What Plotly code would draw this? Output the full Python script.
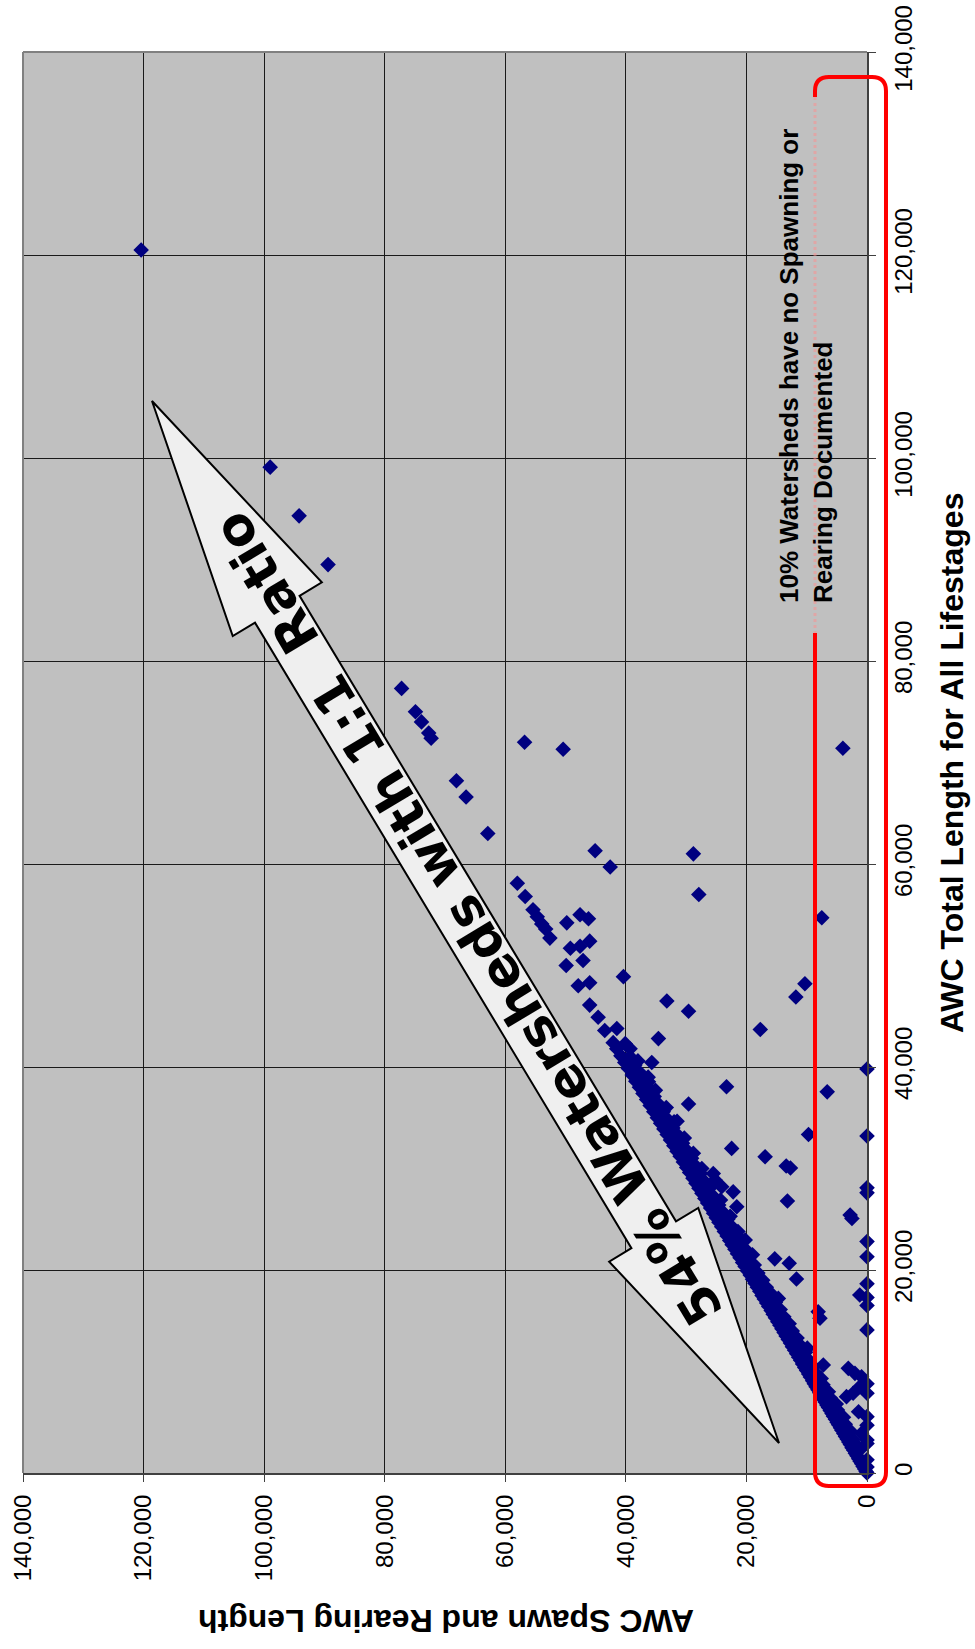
import math
import plotly.graph_objects as go

# ---------------- data ----------------
# Watersheds lying on / very near the 1:1 line (AWC total length, AWC spawn & rearing length)
band_total = [150, 400, 650, 900, 1150, 1400, 1700, 1950, 2250, 2500, 2800, 3050, 3350, 3600,
              3900, 4200, 4450, 4750, 5000, 5300, 5600, 5850, 6150, 6450, 6700, 7000, 7300, 7600,
              7900, 8200, 8500, 8800, 9100, 9450, 9750, 10100, 10400, 10750, 11100, 11400, 11750,
              12100, 12450, 12800, 13150, 13500, 13850, 14200, 14550, 14900, 15300, 15650, 16000,
              16400, 16750, 17150, 17500, 17900, 18300, 18700, 19100, 19500, 19900, 20350, 20750,
              21200, 21600, 22050, 22500, 22900, 23350, 23800, 24250, 24700, 25150, 25600, 26100,
              26600, 27050, 27550, 28050, 28550, 29050, 29600, 30100, 30650, 31200, 31700, 32250,
              32800, 33350, 33900, 34450, 35000, 35600, 36200, 36800, 37400, 38000, 38600, 39200,
              39850, 40450, 41100, 41800, 42400, 44900]
band_spawn = [150, 390, 640, 880, 1140, 1380, 1660, 1930, 2200, 2480, 2760, 3020, 3300, 3570,
              3850, 4170, 4400, 4710, 4960, 5240, 5560, 5800, 6100, 6390, 6660, 6930, 7260, 7530,
              7850, 8130, 8440, 8740, 9020, 9390, 9680, 10020, 10330, 10680, 11010, 11330, 11670,
              12010, 12370, 12700, 13060, 13420, 13750, 14110, 14450, 14800, 15190, 15560, 15890,
              16300, 16640, 17030, 17400, 17780, 18190, 18580, 18990, 19370, 19790, 20220, 20630,
              21060, 21480, 21910, 22370, 22770, 23200, 23660, 24100, 24560, 25000, 25450, 25940,
              26440, 26890, 27380, 27880, 28380, 28870, 29420, 29910, 30460, 31000, 31510, 32040,
              32600, 33140, 33690, 34230, 34780, 35370, 35970, 36560, 37160, 37750, 38350, 38940,
              39580, 40180, 40820, 41510, 42100, 44600]

# second and third rows of watersheds just below the 1:1 line (thick part of the band)
band2_total = [2600, 3300, 4100, 4800, 5500, 6200, 6800, 7400, 8000, 8700, 9300, 9900, 10500,
               11200, 11900, 12600, 13300, 14000, 14700, 15400, 16100, 16800, 17600, 18300, 19000,
               19700, 20500, 21200, 22000, 22700, 23500, 24200, 25000, 25700, 26400, 27200, 28000,
               28700, 29500, 30300, 31000, 31800, 32500, 33300, 34000, 34800, 35600, 36300, 37100,
               37900, 38700, 39400, 40200, 41000, 42300]
band2_spawn = [1500, 2300, 2700, 3600, 3900, 4900, 5100, 6100, 6400, 7300, 7600, 8600, 8900,
               9800, 10200, 11100, 11600, 12400, 12900, 13800, 14400, 15200, 15800, 16700, 17300,
               18100, 18700, 19600, 20100, 21000, 21700, 22400, 23100, 23900, 24600, 25400, 26200,
               26900, 27600, 28500, 29100, 29900, 30600, 31400, 32200, 33000, 33800, 34500, 35300,
               36100, 36900, 37600, 38500, 39300, 40100]
band3_total = [12300, 17200, 21500, 23800, 25300, 26900, 28400, 30000, 31500,
               33000, 34600, 36000, 37700, 39000, 40600]
band3_spawn = [9900, 14700, 19000, 21400, 22700, 24300, 25800, 27400, 28800,
               30300, 32000, 33300, 35100, 36300, 38000]

# larger watersheds close to the 1:1 line
large_total = [120500, 99100, 94300, 89500, 77300, 75000, 74000, 72400, 72900, 68200, 66600, 63000,
               58100, 56800, 55500, 54800, 54100, 53600, 52700, 50000, 48000, 46100, 43600]
large_spawn = [120400, 99000, 94200, 89400, 77200, 74900, 73900, 72300, 72700, 68100, 66500, 62900,
               58000, 56700, 55400, 54700, 53950, 53300, 52600, 49900, 47900, 46000, 43500]

# watersheds well below the 1:1 line
off_total = [72000, 71300, 71400, 61300, 59700, 61000, 57000, 54700, 54200, 55000, 54600, 51700,
             51900, 52400, 50500, 48300, 43800, 48900, 46500, 45500, 42800, 40450, 38050, 48200,
             46900, 43700, 37550, 36350, 34650, 33350, 31980, 31160, 30250, 30050, 26800, 29190,
             29500, 28860, 28200, 27700, 26230, 25080, 25410, 22950, 21640, 21100, 20660, 19110,
             17040, 15890, 15240, 14410, 10640, 10310, 9820, 9490, 7520, 7850, 8500, 6040, 3910,
             2270, 6870, 17530, 41800, 38540, 24920, 24430]
off_spawn = [56800, 50400, 4000, 45100, 42600, 28800, 27900, 7500, 49800, 47600, 46200, 49200,
             47600, 46000, 47100, 46000, 41500, 40400, 33200, 29600, 34600, 35700, 23300, 10300,
             11800, 17700, 6600, 29600, 31500, 9700, 22450, 16900, 13400, 12700, 13200, 27990,
             25500, 25200, 24100, 22200, 21600, 2500, 2800, 20200, 19700, 15300, 12900, 11700,
             15500, 8100, 7800, 13300, 7250, 3100, 2000, 900, 3400, 2300, 1200, 1400, 900,
             1200, 5600, 1200, 39300, 36250, 23840, 22730]

# watersheds with no spawning or rearing documented (spawn length = 0)
nospawn_total = [39800, 33200, 28100, 27600, 22800, 21300, 18650, 17300, 16500, 14100, 8800, 7850,
                 5550, 4700, 3250, 2900, 1300, 600, 0]
nospawn_spawn = [0] * len(nospawn_total)

total_all = band_total + band2_total + band3_total + large_total + off_total + nospawn_total
spawn_all = band_spawn + band2_spawn + band3_spawn + large_spawn + off_spawn + nospawn_spawn

tick_vals = [0, 20000, 40000, 60000, 80000, 100000, 120000, 140000]

# ---------------- layout geometry (page pixels of the 975x1649 window) ----------------
W, H = 975, 1649
PL, PR, PT, PB = 23, 867, 52, 1473   # plot-area edges in page pixels


def P(x, y):
    """page pixel -> paper coordinates"""
    return (x - PL) / (PR - PL), (PB - y) / (PB - PT)


def path_from(points, close=True):
    s = ""
    for i, (x, y) in enumerate(points):
        px_, py_ = P(x, y)
        s += ("M" if i == 0 else "L") + f"{px_:.5f},{py_:.5f} "
    return s + ("Z" if close else "")


fig = go.Figure()
fig.add_trace(go.Scatter(
    x=spawn_all, y=total_all, mode="markers",
    marker=dict(symbol="diamond", size=12, color="#000080", line=dict(width=0)),
    cliponaxis=False, hoverinfo="skip", showlegend=False))

AX_FONT = dict(family="Arial, Liberation Sans, sans-serif", size=24, color="black")

fig.update_layout(
    width=W, height=H, autosize=False,
    margin=dict(l=PL, r=W - PR, t=PT, b=H - PB, pad=0),
    paper_bgcolor="white", plot_bgcolor="#C0C0C0",
    showlegend=False,
    xaxis=dict(range=[140000, 0], tickvals=tick_vals, tickformat=",", tickangle=-90,
               tickfont=AX_FONT, showgrid=True, gridcolor="#1a1a1a", gridwidth=1,
               zeroline=False, showline=True, linecolor="#404040", linewidth=2,
               ticks="outside", ticklen=7, tickcolor="#404040", tickwidth=1,
               ticklabelstandoff=3, ticklabeloverflow="allow", automargin=False,
               fixedrange=True),
    yaxis=dict(range=[0, 140000], tickvals=tick_vals, tickformat=",", tickangle=-90,
               side="right", tickfont=AX_FONT, showgrid=True, gridcolor="#1a1a1a", gridwidth=1,
               zeroline=False, showline=True, linecolor="#404040", linewidth=2,
               ticks="outside", ticklen=7, tickcolor="#404040", tickwidth=1,
               ticklabelstandoff=7, ticklabeloverflow="allow", automargin=False,
               fixedrange=True),
)

shapes = []
# top / left border of the plot area
shapes.append(dict(type="line", xref="paper", yref="paper", x0=0, y0=1, x1=1, y1=1,
                   line=dict(color="#808080", width=2)))
shapes.append(dict(type="line", xref="paper", yref="paper", x0=0, y0=0, x1=0, y1=1,
                   line=dict(color="#808080", width=2)))

# double headed block arrow
t1 = (152, 401)
t2 = (779, 1443)
head_len, head_half, shaft_half = 243, 52, 26
L = math.hypot(t2[0] - t1[0], t2[1] - t1[1])
u = ((t2[0] - t1[0]) / L, (t2[1] - t1[1]) / L)
n = (u[1], -u[0])
b1 = (t1[0] + head_len * u[0], t1[1] + head_len * u[1])
b2 = (t2[0] - head_len * u[0], t2[1] - head_len * u[1])


def off(p, k):
    return (p[0] + k * n[0], p[1] + k * n[1])


arrow_pts = [t1, off(b1, head_half), off(b1, shaft_half), off(b2, shaft_half), off(b2, head_half),
             t2, off(b2, -head_half), off(b2, -shaft_half), off(b1, -shaft_half), off(b1, -head_half)]
shapes.append(dict(type="path", xref="paper", yref="paper", path=path_from(arrow_pts),
                   fillcolor="#EFEFEF", line=dict(color="black", width=2), layer="above"))

# red rounded box around the "no spawning" strip (gap where the text box sits)
bx0, bx1, by0, by1, r = 815, 886, 77, 1486, 14
gap_top, gap_bot = 97, 633


def pp(x, y):
    a, b = P(x, y)
    return f"{a:.5f},{b:.5f}"


red_path = (f"M{pp(bx0, gap_top)} L{pp(bx0, by0 + r)} Q{pp(bx0, by0)} {pp(bx0 + r, by0)} "
            f"L{pp(bx1 - r, by0)} Q{pp(bx1, by0)} {pp(bx1, by0 + r)} "
            f"L{pp(bx1, by1 - r)} Q{pp(bx1, by1)} {pp(bx1 - r, by1)} "
            f"L{pp(bx0 + r, by1)} Q{pp(bx0, by1)} {pp(bx0, by1 - r)} L{pp(bx0, gap_bot)}")
shapes.append(dict(type="path", xref="paper", yref="paper", path=red_path,
                   line=dict(color="#FF0000", width=4), layer="above"))
g0 = P(bx0, gap_top)
g1 = P(bx0, gap_bot)
shapes.append(dict(type="line", xref="paper", yref="paper", x0=g0[0], y0=g0[1], x1=g1[0], y1=g1[1],
                   line=dict(color="rgba(255,140,140,0.5)", width=3, dash="dot"), layer="above"))
fig.update_layout(shapes=shapes)

# ---------------- text ----------------
ann = []
cx, cy = P(468, 919)
ann.append(dict(x=cx, y=cy, xref="paper", yref="paper", showarrow=False, textangle=-121,
                text="<b>54% Watersheds with 1:1\u00a0 Ratio</b>",
                font=dict(family="DejaVu Sans, sans-serif", size=52, color="black"),
                xanchor="center", yanchor="middle"))
cx, cy = P(806, 366)
ann.append(dict(x=cx, y=cy, xref="paper", yref="paper", showarrow=False, textangle=-90,
                text="<b>10% Watersheds have no Spawning or<br>Rearing Documented</b>", align="left",
                font=dict(family="Arial, Liberation Sans, sans-serif", size=26, color="black"),
                xanchor="center", yanchor="middle"))
cx, cy = P(952, 763)
ann.append(dict(x=cx, y=cy, xref="paper", yref="paper", showarrow=False, textangle=-90,
                text="<b>AWC Total Length for All Lifestages</b>",
                font=dict(family="Arial, Liberation Sans, sans-serif", size=32, color="black"),
                xanchor="center", yanchor="middle"))
cx, cy = P(446, 1621)
ann.append(dict(x=cx, y=cy, xref="paper", yref="paper", showarrow=False, textangle=180,
                text="<b>AWC Spawn and Rearing Length</b>",
                font=dict(family="Arial, Liberation Sans, sans-serif", size=32, color="black"),
                xanchor="center", yanchor="middle"))
fig.update_layout(annotations=ann)

# the page's default 8px body margin is removed so the figure fills the window exactly
fig.write_html("out.html", config={"displayModeBar": False, "staticPlot": True},
               post_script="document.body.style.margin='0px';document.body.style.overflow='hidden';")
